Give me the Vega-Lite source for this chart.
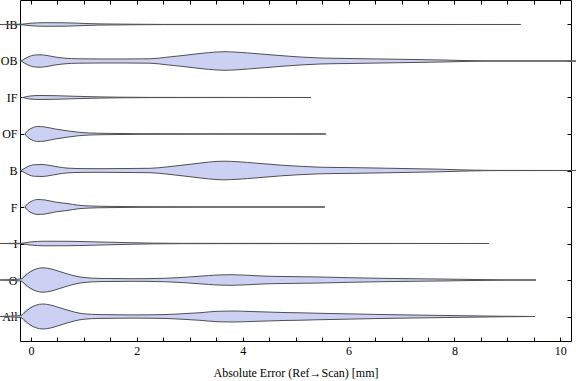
{
  "$schema": "https://vega.github.io/schema/vega-lite/v6.json",
  "width": 551,
  "height": 341,
  "autosize": {"type": "none"},
  "padding": {"left": 20, "top": 0, "right": 5, "bottom": 40},
  "config": {
    "view": {"stroke": "#000000", "strokeWidth": 1},
    "font": "Liberation Serif",
    "axis": {
      "domain": false, "grid": false, "tickColor": "#000000", "tickSize": -4, "tickWidth": 1,
      "labelFont": "Liberation Serif", "labelFontSize": 12, "labelColor": "#000000",
      "titleFont": "Liberation Serif", "titleFontSize": 12, "titleFontWeight": "normal", "titleColor": "#000000",
      "labelFlush": false, "labelOverlap": false
    }
  },
  "data": {"values": [
    {"c":"IB","x":-0.586,"d":0},{"c":"IB","x":-0.170,"d":0.015},{"c":"IB","x":-0.019,"d":0.06},{"c":"IB","x":0.265,"d":0.09},{"c":"IB","x":0.642,"d":0.085},{"c":"IB","x":1.020,"d":0.05},{"c":"IB","x":1.304,"d":0.03},{"c":"IB","x":1.870,"d":0.015},{"c":"IB","x":2.5,"d":0.005},{"c":"IB","x":9.25,"d":0},
    {"c":"OB","x":-0.189,"d":0},{"c":"OB","x":-0.113,"d":0.12},{"c":"OB","x":-0.038,"d":0.22},{"c":"OB","x":0.047,"d":0.29},{"c":"OB","x":0.170,"d":0.31},{"c":"OB","x":0.302,"d":0.275},{"c":"OB","x":0.453,"d":0.2},{"c":"OB","x":0.642,"d":0.14},{"c":"OB","x":0.888,"d":0.11},{"c":"OB","x":1.304,"d":0.10},{"c":"OB","x":1.795,"d":0.10},{"c":"OB","x":2.248,"d":0.11},{"c":"OB","x":2.569,"d":0.19},{"c":"OB","x":2.872,"d":0.275},{"c":"OB","x":3.193,"d":0.375},{"c":"OB","x":3.514,"d":0.45},{"c":"OB","x":3.646,"d":0.465},{"c":"OB","x":3.892,"d":0.44},{"c":"OB","x":4.289,"d":0.36},{"c":"OB","x":4.761,"d":0.26},{"c":"OB","x":5.082,"d":0.20},{"c":"OB","x":5.460,"d":0.15},{"c":"OB","x":6.027,"d":0.125},{"c":"OB","x":6.594,"d":0.10},{"c":"OB","x":7.217,"d":0.075},{"c":"OB","x":7.860,"d":0.045},{"c":"OB","x":8.237,"d":0.02},{"c":"OB","x":8.672,"d":0.005},{"c":"OB","x":10.35,"d":0},
    {"c":"IF","x":-0.151,"d":0},{"c":"IF","x":-0.019,"d":0.075},{"c":"IF","x":0.170,"d":0.10},{"c":"IF","x":0.453,"d":0.09},{"c":"IF","x":0.831,"d":0.06},{"c":"IF","x":1.304,"d":0.03},{"c":"IF","x":1.681,"d":0.015},{"c":"IF","x":2.248,"d":0.005},{"c":"IF","x":5.29,"d":0},
    {"c":"OF","x":-0.113,"d":0},{"c":"OF","x":-0.057,"d":0.175},{"c":"OF","x":0.019,"d":0.30},{"c":"OF","x":0.132,"d":0.375},{"c":"OF","x":0.265,"d":0.35},{"c":"OF","x":0.453,"d":0.25},{"c":"OF","x":0.680,"d":0.16},{"c":"OF","x":0.888,"d":0.09},{"c":"OF","x":1.115,"d":0.05},{"c":"OF","x":1.493,"d":0.03},{"c":"OF","x":2.059,"d":0.015},{"c":"OF","x":3.193,"d":0.007},{"c":"OF","x":5.57,"d":0},
    {"c":"B","x":-0.189,"d":0},{"c":"B","x":-0.113,"d":0.12},{"c":"B","x":-0.038,"d":0.22},{"c":"B","x":0.047,"d":0.285},{"c":"B","x":0.208,"d":0.30},{"c":"B","x":0.359,"d":0.25},{"c":"B","x":0.510,"d":0.18},{"c":"B","x":0.680,"d":0.12},{"c":"B","x":0.982,"d":0.095},{"c":"B","x":1.304,"d":0.09},{"c":"B","x":1.795,"d":0.10},{"c":"B","x":2.248,"d":0.11},{"c":"B","x":2.569,"d":0.18},{"c":"B","x":2.872,"d":0.27},{"c":"B","x":3.193,"d":0.37},{"c":"B","x":3.514,"d":0.455},{"c":"B","x":3.646,"d":0.465},{"c":"B","x":3.892,"d":0.44},{"c":"B","x":4.289,"d":0.36},{"c":"B","x":4.761,"d":0.26},{"c":"B","x":5.082,"d":0.21},{"c":"B","x":5.460,"d":0.165},{"c":"B","x":6.027,"d":0.145},{"c":"B","x":6.594,"d":0.12},{"c":"B","x":7.217,"d":0.09},{"c":"B","x":7.727,"d":0.065},{"c":"B","x":8.237,"d":0.025},{"c":"B","x":8.672,"d":0.005},{"c":"B","x":10.35,"d":0},
    {"c":"F","x":-0.113,"d":0},{"c":"F","x":-0.057,"d":0.175},{"c":"F","x":0.019,"d":0.30},{"c":"F","x":0.132,"d":0.375},{"c":"F","x":0.265,"d":0.35},{"c":"F","x":0.453,"d":0.25},{"c":"F","x":0.680,"d":0.175},{"c":"F","x":0.888,"d":0.09},{"c":"F","x":1.115,"d":0.05},{"c":"F","x":1.493,"d":0.03},{"c":"F","x":2.059,"d":0.015},{"c":"F","x":3.193,"d":0.007},{"c":"F","x":5.55,"d":0},
    {"c":"I","x":-0.586,"d":0},{"c":"I","x":-0.170,"d":0.015},{"c":"I","x":-0.019,"d":0.075},{"c":"I","x":0.265,"d":0.115},{"c":"I","x":0.737,"d":0.11},{"c":"I","x":1.304,"d":0.075},{"c":"I","x":1.870,"d":0.04},{"c":"I","x":2.248,"d":0.02},{"c":"I","x":2.815,"d":0.008},{"c":"I","x":8.65,"d":0},
    {"c":"O","x":-0.586,"d":0},{"c":"O","x":-0.189,"d":0.05},{"c":"O","x":-0.113,"d":0.2},{"c":"O","x":-0.019,"d":0.4},{"c":"O","x":0.094,"d":0.55},{"c":"O","x":0.227,"d":0.61},{"c":"O","x":0.359,"d":0.565},{"c":"O","x":0.510,"d":0.45},{"c":"O","x":0.680,"d":0.31},{"c":"O","x":0.831,"d":0.2},{"c":"O","x":0.982,"d":0.13},{"c":"O","x":1.304,"d":0.08},{"c":"O","x":1.927,"d":0.065},{"c":"O","x":2.569,"d":0.09},{"c":"O","x":2.872,"d":0.13},{"c":"O","x":3.193,"d":0.19},{"c":"O","x":3.514,"d":0.25},{"c":"O","x":3.760,"d":0.265},{"c":"O","x":4.138,"d":0.23},{"c":"O","x":4.459,"d":0.19},{"c":"O","x":4.761,"d":0.175},{"c":"O","x":5.082,"d":0.165},{"c":"O","x":5.460,"d":0.15},{"c":"O","x":6.027,"d":0.115},{"c":"O","x":6.594,"d":0.085},{"c":"O","x":7.217,"d":0.065},{"c":"O","x":7.860,"d":0.045},{"c":"O","x":8.237,"d":0.03},{"c":"O","x":8.861,"d":0.01},{"c":"O","x":9.54,"d":0},
    {"c":"All","x":-0.586,"d":0},{"c":"All","x":-0.189,"d":0.05},{"c":"All","x":-0.113,"d":0.21},{"c":"All","x":-0.019,"d":0.41},{"c":"All","x":0.094,"d":0.565},{"c":"All","x":0.227,"d":0.625},{"c":"All","x":0.359,"d":0.58},{"c":"All","x":0.510,"d":0.465},{"c":"All","x":0.680,"d":0.325},{"c":"All","x":0.831,"d":0.215},{"c":"All","x":0.982,"d":0.14},{"c":"All","x":1.304,"d":0.095},{"c":"All","x":1.927,"d":0.08},{"c":"All","x":2.569,"d":0.10},{"c":"All","x":2.872,"d":0.14},{"c":"All","x":3.193,"d":0.19},{"c":"All","x":3.514,"d":0.26},{"c":"All","x":3.816,"d":0.275},{"c":"All","x":4.138,"d":0.25},{"c":"All","x":4.459,"d":0.225},{"c":"All","x":4.761,"d":0.20},{"c":"All","x":5.082,"d":0.185},{"c":"All","x":5.460,"d":0.16},{"c":"All","x":6.027,"d":0.13},{"c":"All","x":6.594,"d":0.10},{"c":"All","x":7.217,"d":0.075},{"c":"All","x":7.860,"d":0.05},{"c":"All","x":8.237,"d":0.035},{"c":"All","x":8.861,"d":0.015},{"c":"All","x":9.52,"d":0}
  ]},
  "encoding": {
    "x": {"field": "x", "type": "quantitative", "scale": {"domain": [-0.208, 10.202], "nice": false, "zero": false}, "axis": null},
    "y": {"field": "c", "type": "nominal", "sort": ["IB","OB","IF","OF","B","F","I","O","All"], "scale": {"type": "point", "padding": 0.671}, "axis": null},
    "detail": {"field": "c"},
    "order": {"field": "x", "type": "quantitative"}
  },
  "layer": [
    {
      "mark": {"type": "trail", "color": "#CCD1F3"},
      "encoding": {
        "x": {"field": "x", "type": "quantitative", "title": "Absolute Error (Ref\u2192Scan) [mm]",
          "axis": {"orient": "bottom", "values": [0,0.5,1,1.5,2,2.5,3,3.5,4,4.5,5,5.5,6,6.5,7,7.5,8,8.5,9,9.5,10], "labelExpr": "datum.value % 2 === 0 ? format(datum.value, 'd') : ''", "labelPadding": 8, "titlePadding": 11}},
        "y": {"field": "c", "type": "nominal", "sort": ["IB","OB","IF","OF","B","F","I","O","All"], "title": null, "axis": {"orient": "left", "labelPadding": 7}},
        "size": {"field": "d", "type": "quantitative", "scale": {"domain": [0, 1], "range": [0, 40], "zero": true}, "legend": null}
      }
    },
    {
      "mark": {"type": "line", "color": "#505050", "strokeWidth": 1, "interpolate": "monotone"},
      "encoding": {
        "yOffset": {"field": "d", "type": "quantitative", "scale": {"domain": [0, 1], "range": [0, -20]}}
      }
    },
    {
      "mark": {"type": "line", "color": "#505050", "strokeWidth": 1, "interpolate": "monotone"},
      "encoding": {
        "x": {"field": "x", "type": "quantitative", "title": null,
          "axis": {"orient": "top", "values": [0,0.5,1,1.5,2,2.5,3,3.5,4,4.5,5,5.5,6,6.5,7,7.5,8,8.5,9,9.5,10], "labels": false}},
        "y": {"field": "c", "type": "nominal", "sort": ["IB","OB","IF","OF","B","F","I","O","All"], "title": null, "axis": {"orient": "right", "labels": false}},
        "yOffset": {"field": "d", "type": "quantitative", "scale": {"domain": [0, 1], "range": [0, 20]}}
      }
    }
  ],
  "resolve": {"scale": {"yOffset": "independent"}, "axis": {"x": "independent", "y": "independent"}}
}
